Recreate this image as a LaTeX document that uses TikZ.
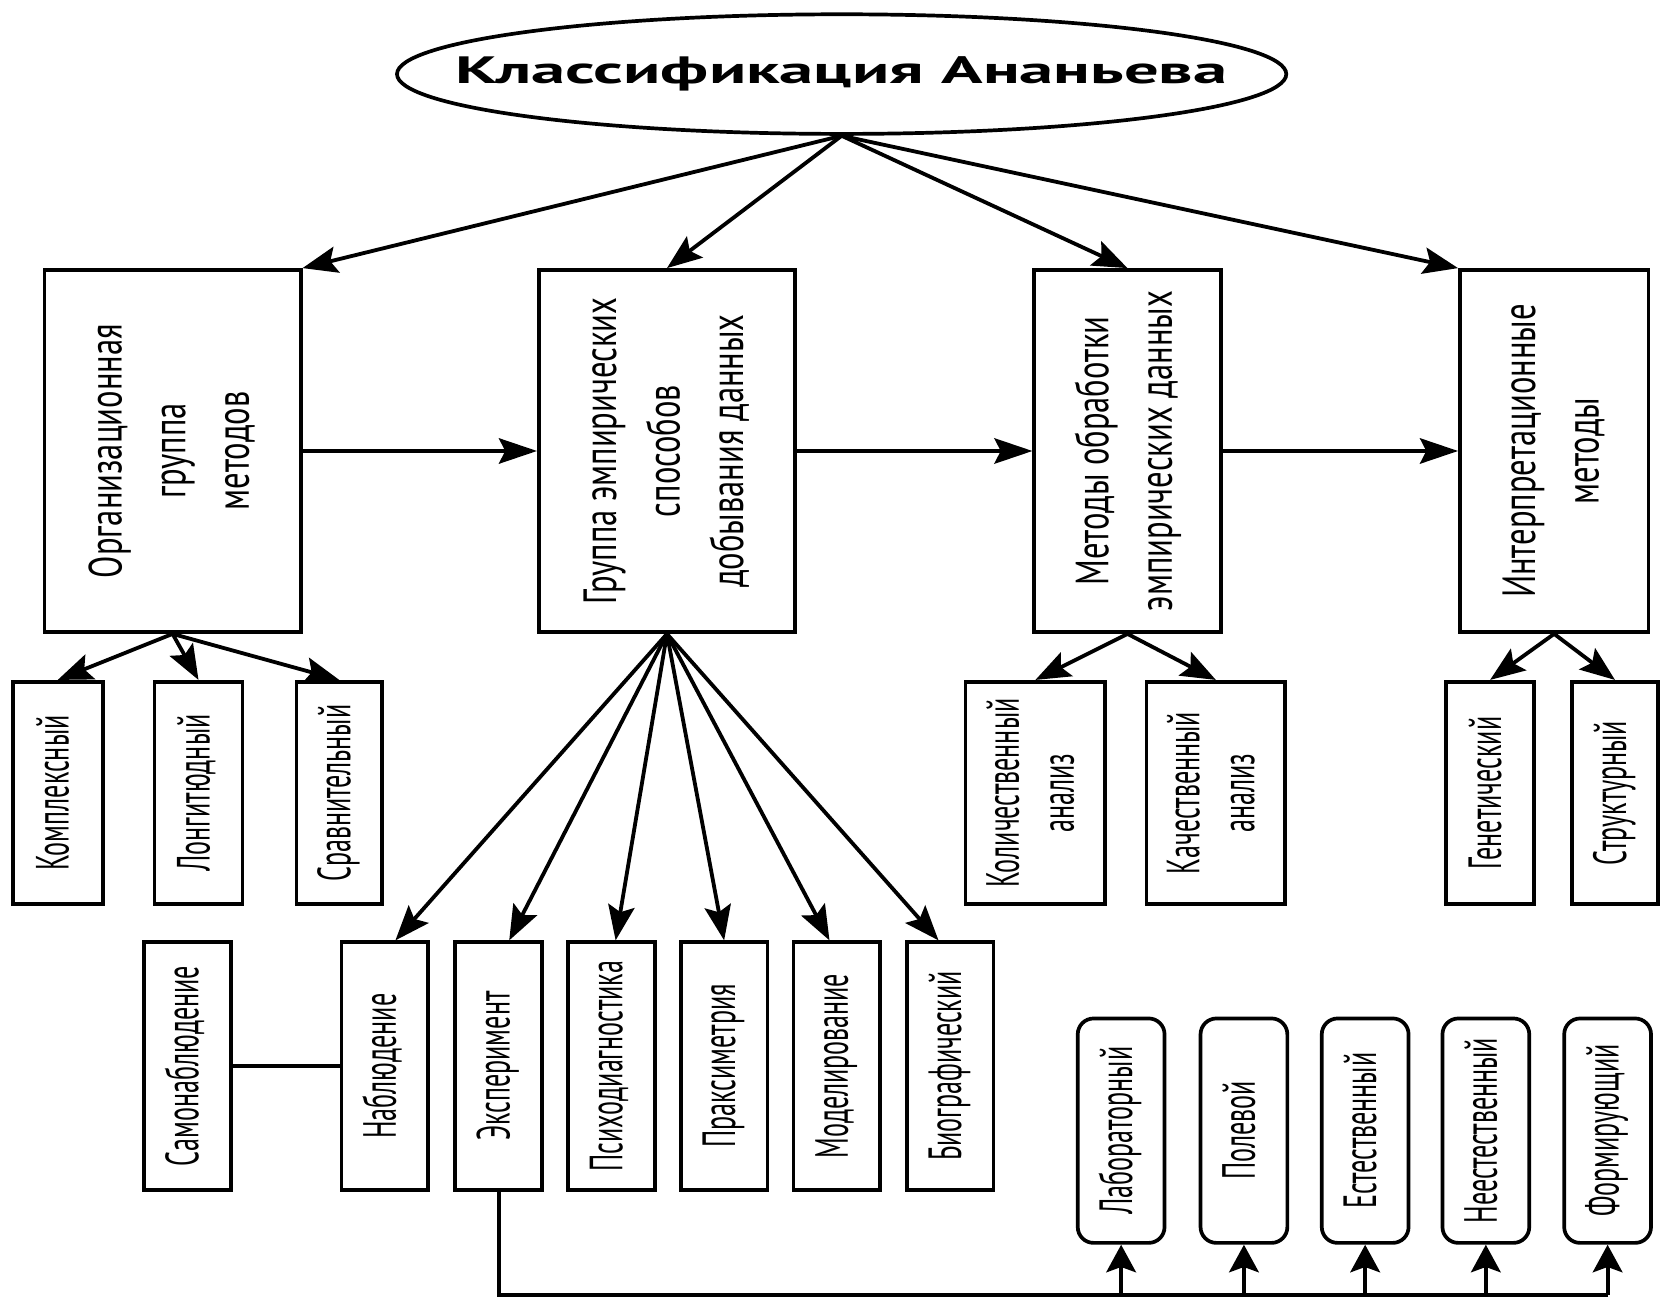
\documentclass[tikz,border=0pt]{standalone}
\usepackage{graphicx}
\usepackage{fontspec}
\usetikzlibrary{arrows.meta,shapes.geometric}
\setmainfont{PT Sans}
\newfontfamily\titlefont{PT Sans}[FakeStretch=1.8]
\newfontfamily\bigfont{PT Sans}[FakeStretch=0.70]
\newfontfamily\smallfont{PT Sans}[FakeStretch=0.56]
\newcommand{\rottext}[1]{\rotatebox{90}{\begin{tabular}{@{}c@{}}#1\end{tabular}}}
\begin{document}
\begin{tikzpicture}[x=1pt,y=-1pt,
  bigbox/.style={draw, line width=3.5pt, inner sep=0pt, minimum height=342pt,
    font=\bigfont\fontsize{44}{60}\selectfont},
  midbox/.style={draw, line width=3.5pt, inner sep=0pt, minimum height=210pt,
    font=\smallfont\fontsize{44}{52}\selectfont},
  lowbox/.style={draw, line width=3.5pt, inner sep=0pt, minimum height=234pt, minimum width=82pt,
    font=\smallfont\fontsize{44}{52}\selectfont},
  kindbox/.style={draw, line width=3.5pt, rounded corners=15pt, inner sep=0pt, minimum height=212pt, minimum width=82pt,
    font=\smallfont\fontsize{44}{52}\selectfont},
  arr/.style={-{Stealth[length=33pt,width=25pt,inset=6pt]}, line width=3.6pt},
  harr/.style={-{Stealth[length=36pt,width=24pt,inset=6pt]}, line width=3.6pt},
  varr/.style={-{Stealth[length=26pt,width=28pt,inset=5pt]}, line width=3.6pt},
  plain/.style={line width=3.6pt}
]
\path[fill=white, use as bounding box] (0,0) rectangle (1568,1230);

% root
\node[ellipse, draw, line width=3.5pt, minimum width=840pt, minimum height=113pt, inner sep=0pt] (root) at (795,70) {};
\node[inner sep=0pt, font=\titlefont\bfseries\fontsize{36}{40}\selectfont] (roottext) at (root.center) {Классификация Ананьева};

% main groups
\node[bigbox, minimum width=242pt] (org) at (163,426) {\rottext{Организационная\\группа\\методов}};
\node[bigbox, minimum width=242pt] (emp) at (630,426) {\rottext{Группа эмпирических\\способов\\добывания данных}};
\node[bigbox, minimum width=176pt] (proc) at (1065,426) {\rottext{Методы обработки\\эмпирических данных}};
\node[bigbox, minimum width=178pt] (intp) at (1468,426) {\rottext{Интерпретационные\\методы}};

% second row
\node[midbox, minimum width=85pt] (kompl) at (54.5,749) {\rottext{Комплексный}};
\node[midbox, minimum width=83pt] (longi) at (187.5,749) {\rottext{Лонгитюдный}};
\node[midbox, minimum width=81pt] (sravn) at (320.5,749) {\rottext{Сравнительный}};
\node[midbox, minimum width=132pt] (kolich) at (978,749) {\rottext{Количественный\\анализ}};
\node[midbox, minimum width=131pt] (kachest) at (1148.5,749) {\rottext{Качественный\\анализ}};
\node[midbox, minimum width=83pt] (genet) at (1407.5,749) {\rottext{Генетический}};
\node[midbox, minimum width=81pt] (strukt) at (1525.5,749) {\rottext{Структурный}};

% third row
\node[lowbox] (samo) at (177,1007) {\rottext{Самонаблюдение}};
\node[lowbox] (nabl) at (363.5,1007) {\rottext{Наблюдение}};
\node[lowbox] (eksp) at (471,1007) {\rottext{Эксперимент}};
\node[lowbox] (psih) at (577.5,1007) {\rottext{Психодиагностика}};
\node[lowbox] (praks) at (684,1007) {\rottext{Праксиметрия}};
\node[lowbox] (model) at (790.5,1007) {\rottext{Моделирование}};
\node[lowbox] (biogr) at (897.5,1007) {\rottext{Биографический}};

% kinds of experiment
\node[kindbox] (lab) at (1059,1068) {\rottext{Лабораторный}};
\node[kindbox] (pole) at (1175,1068) {\rottext{Полевой}};
\node[kindbox] (estes) at (1289.5,1068) {\rottext{Естественный}};
\node[kindbox] (neest) at (1403.5,1068) {\rottext{Неестественный}};
\node[kindbox] (form) at (1518.5,1068) {\rottext{Формирующий}};

% root arrows
\draw[arr] (root.south) -- (org.north east);
\draw[arr] (root.south) -- (emp.north);
\draw[arr] (root.south) -- (proc.north);
\draw[arr] (root.south) -- (intp.north west);

% chain
\draw[harr] (org.east) -- (emp.west);
\draw[harr] (emp.east) -- (proc.west);
\draw[harr] (proc.east) -- (intp.west);

% org fan
\draw[arr] (org.south) -- (kompl.north);
\draw[arr] (org.south) -- (longi.north);
\draw[arr] (org.south) -- (sravn.north);

% emp fan
\draw[arr] (emp.south) -- ([xshift=10pt]nabl.north);
\draw[arr] (emp.south) -- ([xshift=10pt]eksp.north);
\draw[arr] (emp.south) -- ([xshift=4pt]psih.north);
\draw[arr] (emp.south) -- (praks.north);
\draw[arr] (emp.south) -- ([xshift=-7pt]model.north);
\draw[arr] (emp.south) -- ([xshift=-11pt]biogr.north);

% proc and intp fans
\draw[arr] (proc.south) -- (kolich.north);
\draw[arr] (proc.south) -- (kachest.north);
\draw[arr] (intp.south) -- (genet.north);
\draw[arr] (intp.south) -- (strukt.north);

% self-observation link
\draw[plain] (samo.east) -- (nabl.west);

% experiment bus
\coordinate (busend) at (1518.5,1223);
\draw[plain] (eksp.south) |- (busend);
\draw[varr] (lab.south |- busend) -- (lab.south);
\draw[varr] (pole.south |- busend) -- (pole.south);
\draw[varr] (estes.south |- busend) -- (estes.south);
\draw[varr] (neest.south |- busend) -- (neest.south);
\draw[varr] (form.south |- busend) -- (form.south);
\end{tikzpicture}
\end{document}
